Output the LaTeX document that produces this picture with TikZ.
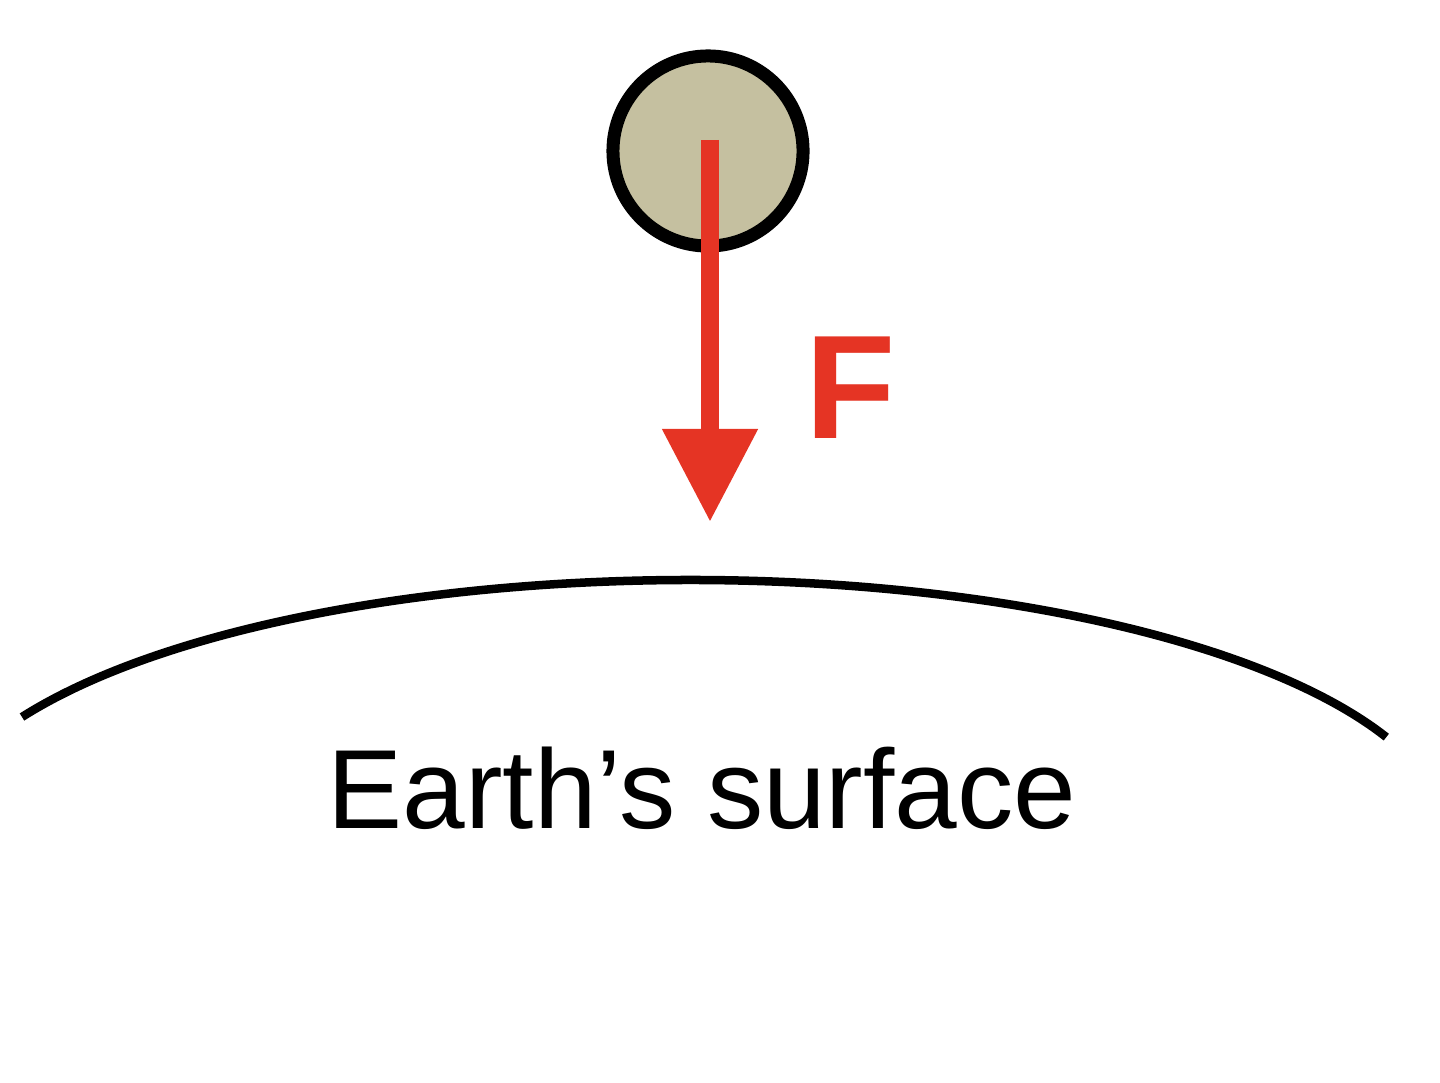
\documentclass[tikz,border=0pt]{standalone}
\usepackage{fontspec}
\setmainfont{Liberation Sans}
\usetikzlibrary{arrows.meta}
\definecolor{forcered}{RGB}{229,52,36}
\definecolor{ballfill}{RGB}{197,192,160}
\begin{document}
\begin{tikzpicture}[x=0.01cm,y=0.01cm,
  ballstyle/.style={circle,draw=black,fill=ballfill,line width=0.13cm,minimum size=1.9cm,inner sep=0pt},
  forcearrow/.style={draw=forcered,line width=0.18cm,-{Triangle[width=0.91cm,length=0.93cm]},color=forcered},
  surface/.style={draw=black,line width=0.085cm},
  flabel/.style={text=forcered,font=\fontsize{42}{42}\selectfont\bfseries,inner sep=0pt},
  slabel/.style={text=black,font=\fontsize{32}{34}\selectfont,inner sep=0pt,anchor=base}]
\useasboundingbox (0,0) rectangle (1440,-1082);
\node[ballstyle] (ball) at (708,-151) {};
\coordinate (ftop) at (710,-140);
\coordinate (ftip) at (710,-522);
\draw[forcearrow] (ftop) -- (ftip);
\node[flabel] (F) at (851,-388) {F};
\coordinate (eL) at (22,-717);
\draw[surface] (eL) arc[start angle=151.5, end angle=23.6, x radius=760, y radius=262];
\node[slabel] (earth) at (702,-828) {Earth’s surface};
\end{tikzpicture}
\end{document}
